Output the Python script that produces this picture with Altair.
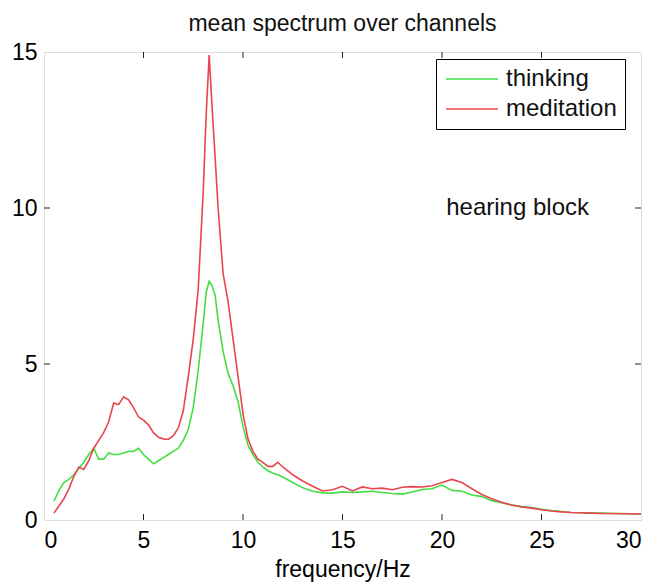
import altair as alt
import pandas as pd

# Mean EEG power spectrum over channels, hearing block
freq = [0.5, 0.75, 1.0, 1.25, 1.5, 1.75, 2.0, 2.25, 2.5, 2.75,
        3.0, 3.25, 3.5, 3.75, 4.0, 4.25, 4.5, 4.75, 5.0, 5.25,
        5.5, 5.75, 6.0, 6.25, 6.5, 6.75, 7.0, 7.25, 7.5, 7.75,
        8.0, 8.15, 8.3, 8.45, 8.6, 8.75, 9.0, 9.25, 9.5, 9.75,
        10.0, 10.25, 10.5, 10.75, 11.0, 11.25, 11.5, 11.75, 12.0, 12.5,
        13.0, 13.5, 14.0, 14.5, 15.0, 15.5, 16.0, 16.5, 17.0, 17.5,
        18.0, 18.5, 19.0, 19.5, 20.0, 20.5, 21.0, 21.5, 22.0, 22.5,
        23.0, 23.5, 24.0, 24.5, 25.0, 25.5, 26.0, 26.5, 27.0, 27.5,
        28.0, 28.5, 29.0, 29.5, 30.0]

thinking = [0.6, 0.95, 1.2, 1.3, 1.45, 1.65, 1.85, 2.1, 2.3, 1.95,
            1.95, 2.15, 2.1, 2.1, 2.15, 2.2, 2.2, 2.3, 2.1, 1.95,
            1.8, 1.9, 2.0, 2.1, 2.2, 2.3, 2.55, 2.9, 3.6, 4.8,
            6.3, 7.3, 7.65, 7.5, 7.2, 6.4, 5.4, 4.7, 4.3, 3.8,
            3.0, 2.4, 2.1, 1.85, 1.7, 1.58, 1.5, 1.45, 1.38, 1.2,
            1.03, 0.92, 0.87, 0.86, 0.9, 0.88, 0.9, 0.92, 0.88, 0.85,
            0.83, 0.9, 0.98, 1.0, 1.12, 0.95, 0.92, 0.8, 0.75, 0.62,
            0.55, 0.48, 0.43, 0.4, 0.34, 0.3, 0.27, 0.24, 0.23, 0.22,
            0.22, 0.21, 0.21, 0.2, 0.19]

meditation = [0.22, 0.45, 0.68, 1.0, 1.4, 1.7, 1.62, 1.9, 2.3, 2.55,
              2.8, 3.15, 3.75, 3.7, 3.95, 3.85, 3.6, 3.3, 3.2, 3.05,
              2.8, 2.65, 2.6, 2.58, 2.7, 2.95, 3.5, 4.6, 5.8, 7.4,
              10.5, 13.0, 14.9, 13.2, 11.6, 10.0, 7.9, 7.0, 5.8, 4.6,
              3.4, 2.6, 2.2, 1.95, 1.85, 1.72, 1.72, 1.85, 1.7, 1.45,
              1.25, 1.08, 0.93, 0.97, 1.08, 0.93, 1.06, 1.0, 1.02, 0.97,
              1.05, 1.07, 1.06, 1.1, 1.2, 1.3, 1.2, 1.0, 0.82, 0.68,
              0.57, 0.48, 0.42, 0.38, 0.33, 0.29, 0.26, 0.24, 0.23, 0.22,
              0.21, 0.21, 0.2, 0.2, 0.19]

series_names = ["thinking", "meditation"]
series_colors = ["#44dd44", "#e8454f"]

x_ticks = [0, 5, 10, 15, 20, 25, 30]
y_ticks = [0, 5, 10, 15]

FONT = "Liberation Sans"
INK = "#111"
W, H = 597, 468

df = pd.concat([
    pd.DataFrame({"freq": freq, "power": thinking, "condition": "thinking"}),
    pd.DataFrame({"freq": freq, "power": meditation, "condition": "meditation"}),
])

x_scale = alt.Scale(domain=[0, 30], nice=False, zero=False)
y_scale = alt.Scale(domain=[0, 15], nice=False)

color = alt.Color(
    "condition:N",
    scale=alt.Scale(domain=series_names, range=series_colors),
    legend=alt.Legend(
        orient="none", legendX=392, legendY=7, title=None,
        symbolType="M-1,0H4.2", symbolSize=400, symbolStrokeWidth=1.6,
        labelFont=FONT, labelFontSize=24, labelColor=INK,
        labelOffset=38, labelLimit=400,
        strokeColor="black", fillColor="white",
        padding=8, rowPadding=6,
    ),
)

x_enc = alt.X(
    "freq:Q", scale=x_scale,
    axis=alt.Axis(values=x_ticks, title="frequency/Hz", grid=False, ticks=False,
                  domain=False, labelPadding=9, labelFontSize=23,
                  titleFontSize=23, titleFontWeight="normal",
                  titleY=56, titleBaseline="alphabetic"),
)
y_enc = alt.Y(
    "power:Q", scale=y_scale,
    axis=alt.Axis(values=y_ticks, title=None, grid=False, ticks=False,
                  domain=False, labelPadding=7, labelFontSize=23),
)

base = alt.Chart(df).encode(x=x_enc, y=y_enc, color=color)
line_think = base.transform_filter(alt.datum.condition == "thinking").mark_line(strokeWidth=1.6, clip=True)
line_med = base.transform_filter(alt.datum.condition == "meditation").mark_line(strokeWidth=1.6, clip=True)

# Inward tick marks on all four sides of the box
xt = pd.DataFrame({"t": x_ticks[1:-1]})
yt = pd.DataFrame({"t": y_ticks[1:-1]})
tick_style = dict(color="#222", strokeWidth=1)

xb = alt.Chart(xt).mark_rule(**tick_style).encode(
    x=alt.X("t:Q", scale=x_scale), y=alt.value(H), y2=alt.value(H - 6))
xtop = alt.Chart(xt).mark_rule(**tick_style).encode(
    x=alt.X("t:Q", scale=x_scale), y=alt.value(0), y2=alt.value(6))
yl = alt.Chart(yt).mark_rule(**tick_style).encode(
    y=alt.Y("t:Q", scale=y_scale), x=alt.value(0), x2=alt.value(6))
yr = alt.Chart(yt).mark_rule(**tick_style).encode(
    y=alt.Y("t:Q", scale=y_scale), x=alt.value(W), x2=alt.value(W - 6))

note = alt.Chart(pd.DataFrame({"freq": [23.8], "power": [10.0], "label": ["hearing block"]})).mark_text(
    font=FONT, fontSize=24, color=INK, align="center", baseline="middle"
).encode(x=alt.X("freq:Q", scale=x_scale), y=alt.Y("power:Q", scale=y_scale), text="label:N")

chart = alt.layer(line_think, line_med, xb, xtop, yl, yr, note).properties(
    width=W, height=H,
    title=alt.TitleParams("mean spectrum over channels", font=FONT, fontSize=23,
                          fontWeight="normal", color=INK, offset=5, anchor="middle"),
    autosize=alt.AutoSizeParams(type="none"),
    padding={"left": 44, "top": 52, "right": 16, "bottom": 64},
).configure_view(
    stroke="#222", strokeWidth=1
).configure_axis(
    labelFont=FONT, titleFont=FONT, labelColor=INK, titleColor=INK
).configure(background="white")

chart.save("out.html", embed_options={"renderer": "svg", "actions": False})
